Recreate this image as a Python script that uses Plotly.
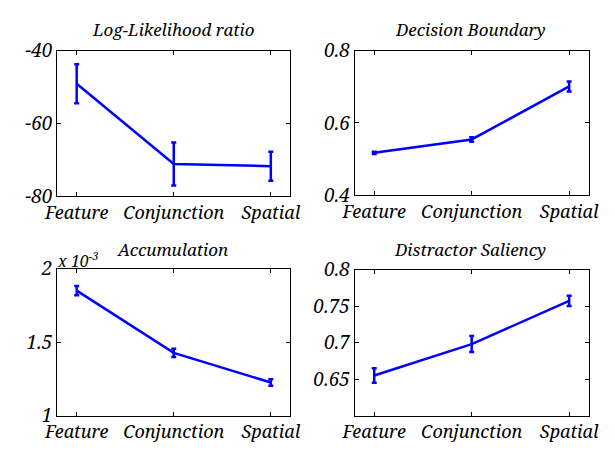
import plotly.graph_objects as go

categories = ["Feature", "Conjunction", "Spatial"]
cat_pos = [1, 2, 3]

llr_mean = [-49.1, -71.2, -71.8]
llr_err = [5.4, 5.9, 4.0]

db_mean = [0.517, 0.554, 0.701]
db_err = [0.003, 0.006, 0.014]

acc_mean = [1.850e-3, 1.427e-3, 1.226e-3]
acc_err = [0.032e-3, 0.028e-3, 0.022e-3]

ds_mean = [0.655, 0.698, 0.757]
ds_err = [0.010, 0.011, 0.007]

titles = ["Log-Likelihood ratio", "Decision Boundary", "Accumulation", "Distractor Saliency"]

llr_ticks = [-80, -60, -40]
llr_ticktext = ["-80", "-60", "-40"]
db_ticks = [0.4, 0.6, 0.8]
db_ticktext = ["0.4", "0.6", "0.8"]
acc_ticks = [1e-3, 1.5e-3, 2e-3]
acc_ticktext = ["1", "1.5", "2"]
ds_ticks = [0.65, 0.7, 0.75, 0.8]
ds_ticktext = ["0.65", "0.7", "0.75", "0.8"]

W, H = 615, 457
FONT = "Noto Serif"
BLUE = "rgb(0,0,255)"

# pixel boxes: (left, right, top, bottom)
boxes = [(46, 288, 40, 194), (355, 598, 40, 193), (46, 288, 271, 427), (355, 598, 272, 427)]
yranges = [[-80, -40], [0.4, 0.8], [1e-3, 2e-3], [0.6, 0.8]]
yticks = [(llr_ticks, llr_ticktext), (db_ticks, db_ticktext), (acc_ticks, acc_ticktext), (ds_ticks, ds_ticktext)]
series = [(llr_mean, llr_err), (db_mean, db_err), (acc_mean, acc_err), (ds_mean, ds_err)]
title_pos = [(167, 18), (475, 18), (166, 251), (475, 251)]

fig = go.Figure()
layout = dict(
    width=W, height=H, margin=dict(l=0, r=0, t=0, b=0),
    paper_bgcolor="white", plot_bgcolor="white", showlegend=False,
    annotations=[],
)

for i in range(4):
    n = "" if i == 0 else str(i + 1)
    l, r, t, b = boxes[i]
    m, e = series[i]
    fig.add_trace(go.Scatter(
        x=cat_pos, y=m, mode="lines",
        line=dict(color=BLUE, width=2.5),
        error_y=dict(type="data", array=e, visible=True, color=BLUE, thickness=2.5, width=2.5),
        xaxis="x" + n, yaxis="y" + n, hoverinfo="skip",
    ))
    layout["xaxis" + n] = dict(
        domain=[l / W, r / W], anchor="y" + n, range=[0.8, 3.2],
        tickvals=cat_pos, ticktext=categories, ticks="inside", ticklen=4, tickcolor="black",
        showline=True, linecolor="black", linewidth=1, mirror="ticks", showgrid=False, zeroline=False,
        tickfont=dict(family=FONT, size=18, color="black", style="italic"),
    )
    layout["yaxis" + n] = dict(
        domain=[1 - b / H, 1 - t / H], anchor="x" + n, range=yranges[i],
        tickvals=yticks[i][0], ticktext=yticks[i][1], ticks="inside", ticklen=4, tickcolor="black",
        showline=True, linecolor="black", linewidth=1, mirror="ticks", showgrid=False, zeroline=False,
        tickfont=dict(family=FONT, size=19, color="black", style="italic"),
    )
    layout["annotations"].append(dict(
        text=titles[i], x=title_pos[i][0] / W, y=1 - title_pos[i][1] / H, xref="paper", yref="paper",
        xanchor="center", yanchor="middle", showarrow=False,
        font=dict(family=FONT, size=17, color="black", style="italic"),
    ))

layout["annotations"].append(dict(
    text="x 10<sup>-3</sup>", x=44 / W, y=1 - 262 / H, xref="paper", yref="paper",
    xanchor="left", yanchor="middle", showarrow=False,
    font=dict(family=FONT, size=16, color="black", style="italic"),
))

fig.update_layout(**layout)
fig.write_html("out.html")
